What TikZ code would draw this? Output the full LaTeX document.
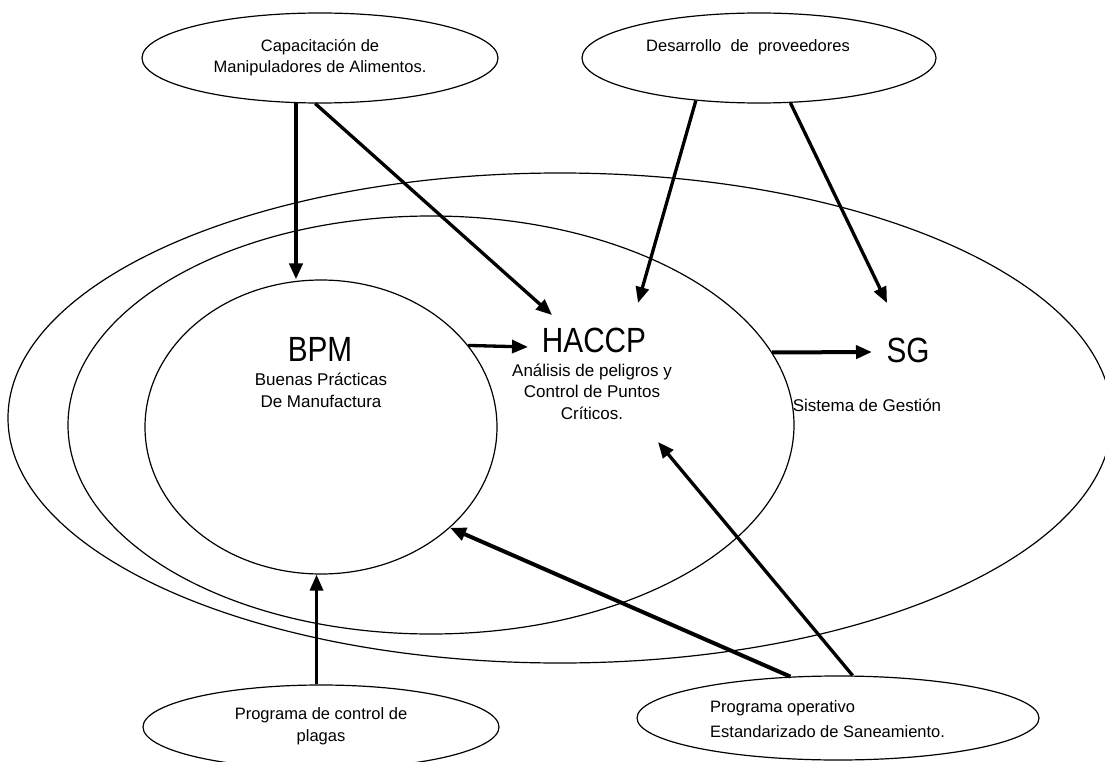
\documentclass[tikz,border=0pt]{standalone}
\usepackage{fontspec}
\setmainfont{Liberation Sans}
\newfontfamily\titlefont{Liberation Sans}[FakeStretch=0.85]
\usetikzlibrary{shapes.geometric,arrows.meta}
\begin{document}
\begin{tikzpicture}[x=1pt,y=-1pt,
  oval/.style={ellipse,draw,line width=1.2pt,inner sep=0pt},
  arr/.style={line width=3.3pt,-{Triangle[length=16pt,width=13pt]}},
  thickarr/.style={line width=4pt,-{Triangle[length=16pt,width=13pt]}},
  lbl/.style={inner sep=0pt,font=\fontsize{16.5}{21}\selectfont,align=center},
  ttl/.style={inner sep=0pt,font=\titlefont\fontsize{35}{40}\selectfont},
  sub/.style={inner sep=0pt,font=\fontsize{17}{22}\selectfont,align=center}]
\useasboundingbox (0,0) rectangle (1105,762);
\clip (0,0) rectangle (1105,762);
\fill[white] (0,0) rectangle (1105,762);

% containing ellipses
\node[oval,minimum width=1104pt,minimum height=490pt] (sgell) at (560,418) {};
\node[oval,minimum width=726pt,minimum height=418pt] (mid) at (431,425) {};
\node[oval,minimum width=352pt,minimum height=294pt] (bpm) at (321,427) {};

% satellite ellipses
\node[oval,minimum width=356pt,minimum height=90pt] (cap) at (320,58) {};
\node[oval,minimum width=354pt,minimum height=90pt] (des) at (759,58) {};
\node[oval,minimum width=356pt,minimum height=84pt] (pl) at (321,727) {};
\node[oval,minimum width=402pt,minimum height=84pt] (poes) at (838,718) {};

% texts
\node[lbl] (captext) at (320,57.5) {Capacitación de\\Manipuladores de Alimentos.};
\node[lbl] (destext) at (748,47) {Desarrollo\ \ de\ \ proveedores};
\node[lbl,font=\fontsize{16.5}{22}\selectfont] (pltext) at (321,726) {Programa de control de\\plagas};
\node[lbl,font=\fontsize{16.5}{25}\selectfont,align=left,anchor=west] (poestext) at (710,719) {Programa operativo\\Estandarizado de Saneamiento.};

\node[ttl] (bpmt) at (320,349) {BPM};
\node[sub] (bpms) at (321,390) {Buenas Prácticas\\De Manufactura};
\node[ttl] (hac) at (594,340) {HACCP};
\node[sub,font=\fontsize{17}{21.5}\selectfont] (hacs) at (592,391.7) {Análisis de peligros y\\Control de Puntos\\Críticos.};
\node[ttl] (sg) at (908,350) {SG};
\node[sub] (sgs) at (867,405) {Sistema de Gestión};

% arrow tip coordinates
\coordinate (t2) at (552,315);
\coordinate (t3) at (638,303);
\coordinate (t4) at (887,303);
\coordinate (t5) at (528,347);
\coordinate (t6) at (872,352);
\coordinate (t8) at (658,442);

% connectors
\draw[thickarr] (cap.-118.3) -- (cap.-118.3 |- bpm.north);
\draw[arr] (cap.-96.3) -- (t2);
\draw[arr] (des.-146) -- (t3);
\draw[arr] (des.-55) -- (t4);
\draw[arr] (bpm.29.3) -- (t5);
\draw[thickarr] (mid.12.1) -- (t6);
\draw[thickarr] (poes.139.6) -- (bpm.-38.7);
\draw[arr] (poes.71.5) -- (t8);
\draw[arr] (pl.96.8) -- (pl.96.8 |- bpm.south);
\end{tikzpicture}
\end{document}
